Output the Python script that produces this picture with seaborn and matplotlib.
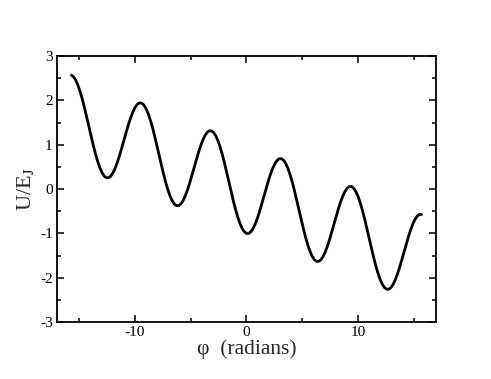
import numpy as np
import pandas as pd
import seaborn as sns
import matplotlib.pyplot as plt
from matplotlib.ticker import MultipleLocator

# phase (radians), sampled every pi/16 from -5pi to 5pi
phi = [-15.708, -15.512, -15.315, -15.119, -14.923, -14.726, -14.530, -14.334,
       -14.137, -13.941, -13.744, -13.548, -13.352, -13.155, -12.959, -12.763,
       -12.566, -12.370, -12.174, -11.977, -11.781, -11.585, -11.388, -11.192,
       -10.996, -10.799, -10.603, -10.407, -10.210, -10.014, -9.817, -9.621,
       -9.425, -9.228, -9.032, -8.836, -8.639, -8.443, -8.247, -8.050,
       -7.854, -7.658, -7.461, -7.265, -7.069, -6.872, -6.676, -6.480,
       -6.283, -6.087, -5.890, -5.694, -5.498, -5.301, -5.105, -4.909,
       -4.712, -4.516, -4.320, -4.123, -3.927, -3.731, -3.534, -3.338,
       -3.142, -2.945, -2.749, -2.553, -2.356, -2.160, -1.963, -1.767,
       -1.571, -1.374, -1.178, -0.982, -0.785, -0.589, -0.393, -0.196,
       0.000, 0.196, 0.393, 0.589, 0.785, 0.982, 1.178, 1.374,
       1.571, 1.767, 1.963, 2.160, 2.356, 2.553, 2.749, 2.945,
       3.142, 3.338, 3.534, 3.731, 3.927, 4.123, 4.320, 4.516,
       4.712, 4.909, 5.105, 5.301, 5.498, 5.694, 5.890, 6.087,
       6.283, 6.480, 6.676, 6.872, 7.069, 7.265, 7.461, 7.658,
       7.854, 8.050, 8.247, 8.443, 8.639, 8.836, 9.032, 9.228,
       9.425, 9.621, 9.817, 10.014, 10.210, 10.407, 10.603, 10.799,
       10.996, 11.192, 11.388, 11.585, 11.781, 11.977, 12.174, 12.370,
       12.566, 12.763, 12.959, 13.155, 13.352, 13.548, 13.744, 13.941,
       14.137, 14.334, 14.530, 14.726, 14.923, 15.119, 15.315, 15.512,
       15.708]

# potential U/E_J
u = [2.571, 2.532, 2.456, 2.343, 2.199, 2.029, 1.836, 1.628,
     1.414, 1.199, 0.991, 0.799, 0.628, 0.485, 0.372, 0.295,
     0.257, 0.256, 0.293, 0.367, 0.471, 0.602, 0.756, 0.924,
     1.100, 1.275, 1.443, 1.597, 1.728, 1.832, 1.906, 1.943,
     1.942, 1.904, 1.827, 1.715, 1.571, 1.400, 1.208, 1.000,
     0.785, 0.571, 0.363, 0.170, 0.000, -0.144, -0.256, -0.333,
     -0.372, -0.372, -0.335, -0.262, -0.157, -0.026, 0.128, 0.296,
     0.471, 0.647, 0.815, 0.968, 1.100, 1.204, 1.277, 1.315,
     1.314, 1.276, 1.199, 1.086, 0.943, 0.772, 0.579, 0.372,
     0.157, -0.058, -0.265, -0.458, -0.628, -0.772, -0.885, -0.961,
     -1.000, -1.001, -0.963, -0.890, -0.786, -0.654, -0.501, -0.332,
     -0.157, 0.018, 0.187, 0.340, 0.471, 0.576, 0.649, 0.686,
     0.686, 0.647, 0.571, 0.458, 0.314, 0.144, -0.049, -0.257,
     -0.471, -0.686, -0.894, -1.086, -1.257, -1.400, -1.513, -1.590,
     -1.628, -1.629, -1.592, -1.518, -1.414, -1.282, -1.129, -0.961,
     -0.785, -0.610, -0.442, -0.288, -0.157, -0.053, 0.021, 0.058,
     0.058, 0.019, -0.058, -0.170, -0.314, -0.485, -0.677, -0.885,
     -1.100, -1.314, -1.522, -1.714, -1.885, -2.029, -2.141, -2.218,
     -2.257, -2.257, -2.220, -2.147, -2.042, -1.911, -1.757, -1.589,
     -1.414, -1.238, -1.070, -0.917, -0.785, -0.681, -0.608, -0.570,
     -0.571]

df = pd.DataFrame({'phi': phi, 'U': u})

sns.set_style('ticks')
plt.rcParams['font.family'] = ['Liberation Serif', 'DejaVu Serif']
plt.rcParams['mathtext.fontset'] = 'stix'
plt.rcParams['axes.unicode_minus'] = False

fig = plt.figure(figsize=(4.91, 3.79), dpi=100)
ax = fig.add_axes([0.116, 0.150, 0.772, 0.702])

sns.lineplot(data=df, x='phi', y='U', color='black', linewidth=2, ax=ax, sort=False)

ax.set_xlim(-17, 17)
ax.set_ylim(-3, 3)
ax.xaxis.set_major_locator(MultipleLocator(10))
ax.xaxis.set_minor_locator(MultipleLocator(5))
ax.yaxis.set_major_locator(MultipleLocator(1))
ax.yaxis.set_minor_locator(MultipleLocator(0.5))
ax.tick_params(which='both', direction='in', top=True, right=True,
               labelsize=11, width=1.1, pad=3, colors='black')
ax.tick_params(which='major', length=5)
ax.tick_params(which='minor', length=3)
for s in ax.spines.values():
    s.set_linewidth(1.3)
    s.set_color('black')

ax.set_xlabel('φ  (radians)', fontsize=15.5, labelpad=0)
ax.set_ylabel(r'U/E$_\mathrm{J}$', fontsize=16, labelpad=3)

fig.savefig('out.png', dpi=100)
